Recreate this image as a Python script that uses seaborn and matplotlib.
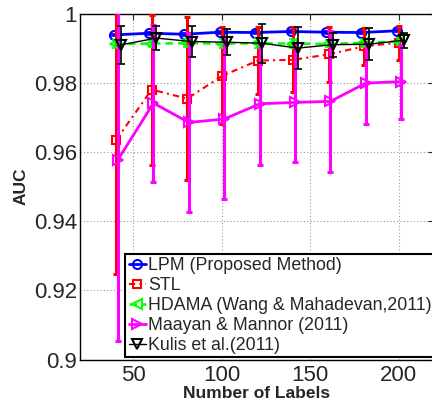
import matplotlib
matplotlib.use("Agg")
import matplotlib.pyplot as plt
import seaborn as sns
import numpy as np

# ---- data ----
num_labels = [40, 60, 80, 100, 120, 140, 160, 180, 200]

lpm = [0.9938, 0.9943, 0.9940, 0.9946, 0.9945, 0.9948, 0.9946, 0.9945, 0.9950]
lpm_err = [0.0004, 0.0004, 0.0004, 0.0004, 0.0004, 0.0004, 0.0004, 0.0004, 0.0004]

stl = [0.9635, 0.9780, 0.9754, 0.9820, 0.9864, 0.9866, 0.9882, 0.9905, 0.9916]
stl_err = [0.0389, 0.0217, 0.0235, 0.0140, 0.0098, 0.0094, 0.0080, 0.0054, 0.0049]

hdama = [0.9912, 0.9913, 0.9914, 0.9913, 0.9914, 0.9913, 0.9912, 0.9915, 0.9919]
hdama_err = [0.0012, 0.0010, 0.0011, 0.0012, 0.0015, 0.0012, 0.0010, 0.0011, 0.0010]

maayan = [0.9578, 0.9741, 0.9685, 0.9695, 0.9739, 0.9743, 0.9746, 0.9799, 0.9803]
maayan_err = [0.0525, 0.0227, 0.0258, 0.0230, 0.0176, 0.0171, 0.0203, 0.0117, 0.0107]

kulis = [0.9909, 0.9929, 0.9919, 0.9917, 0.9914, 0.9900, 0.9910, 0.9911, 0.9923]
kulis_err = [0.0055, 0.0035, 0.0046, 0.0037, 0.0056, 0.0060, 0.0035, 0.0046, 0.0022]

series_names = ["LPM (Proposed Method)", "STL", "HDAMA (Wang & Mahadevan,2011)",
                "Maayan & Mannor (2011)", "Kulis et al.(2011)"]

x_ticks = [50, 100, 150, 200]
y_ticks = [0.9, 0.92, 0.94, 0.96, 0.98, 1.0]
y_ticklabels = ["0.9", "0.92", "0.94", "0.96", "0.98", "1"]

# ---- style ----
sns.set_style("white")
plt.rcParams["font.family"] = ["Liberation Sans", "DejaVu Sans"]

fig = plt.figure(figsize=(4.32, 4.08), dpi=100)
ax = fig.add_axes([80 / 432, (408 - 359.5) / 408, 354 / 432, 346 / 408])

styles = [
    dict(color=(0, 0, 1), marker="o", ls="-", lw=2.0, off=-1.0, elw=1.2, cap=2.5, ms=6.5),
    dict(color=(1, 0, 0), marker="s", ls=(0, (3, 2, 1, 2)), lw=1.5, off=0.5, elw=2.2, cap=2.5, ms=6),
    dict(color=(0, 1, 0), marker="<", ls=(0, (3, 2)), lw=1.8, off=0.0, elw=1.2, cap=2.5, ms=6.5),
    dict(color=(1, 0, 1), marker=">", ls="-", lw=2.0, off=1.5, elw=2.2, cap=2.5, ms=7.5),
    dict(color=(0, 0, 0), marker="v", ls="-", lw=1.0, off=3.0, elw=1.2, cap=3, ms=7.5),
]
means = [lpm, stl, hdama, maayan, kulis]
errs = [lpm_err, stl_err, hdama_err, maayan_err, kulis_err]

x_arr = np.array(num_labels, dtype=float)
for i, (name, m, e, st) in enumerate(zip(series_names, means, errs, styles)):
    xs = x_arr + st["off"]
    ax.errorbar(xs, m, yerr=e, fmt="none", ecolor=st["color"], elinewidth=st["elw"],
                capsize=st["cap"], capthick=st["elw"], zorder=3 + i)
    sns.lineplot(x=xs, y=m, ax=ax, color=st["color"], marker=st["marker"],
                 linestyle=st["ls"], linewidth=st["lw"], markersize=st["ms"],
                 markerfacecolor="none", markeredgecolor=st["color"],
                 markeredgewidth=1.5, label=name, zorder=3 + i)

ax.set_xlim(20, 220)
ax.set_ylim(0.9, 1.0)
ax.set_xticks(x_ticks)
ax.set_yticks(y_ticks)
ax.set_yticklabels(y_ticklabels)
ax.tick_params(axis="both", labelsize=16, direction="in", length=4, width=0.8,
               top=True, right=True, pad=2)
ax.tick_params(axis="x", pad=4)
ax.grid(True, linestyle=(0, (1, 2)), color="0.6", linewidth=0.8)
for sp in ax.spines.values():
    sp.set_color("black")
    sp.set_linewidth(1.0)

ax.set_xlabel("Number of Labels", fontsize=12.5, fontweight="bold", labelpad=0)
ax.set_ylabel("AUC", fontsize=12.5, fontweight="bold", labelpad=4)

leg = ax.legend(loc="lower left", bbox_to_anchor=(0.127, 0.006), fontsize=12.8,
                frameon=True, fancybox=False, framealpha=1, edgecolor="black",
                borderpad=0.2, labelspacing=0.16, handlelength=1.0,
                handletextpad=0.1, borderaxespad=0)
leg.get_frame().set_linewidth(1.5)
leg.set_zorder(20)

fig.savefig("out.png", dpi=100)
